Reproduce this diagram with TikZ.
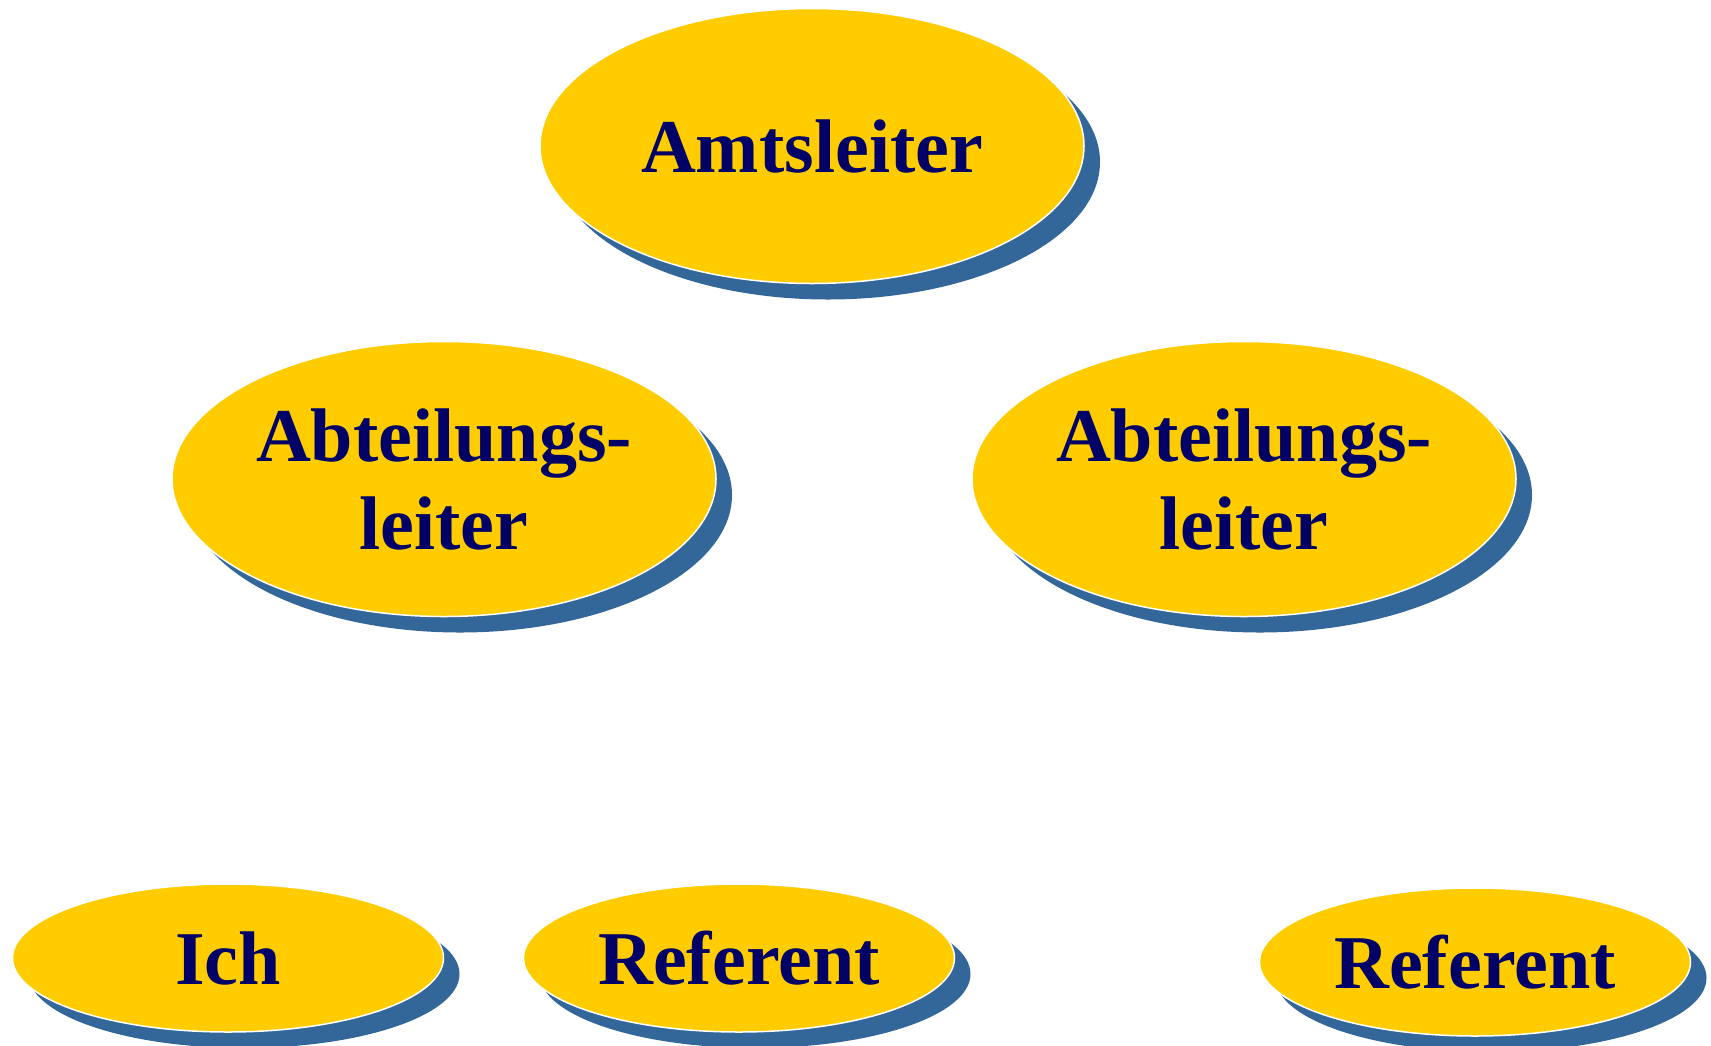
\documentclass[tikz,border=0pt]{standalone}
\usepackage{fontspec}
\setmainfont{Liberation Serif}
\usetikzlibrary{shapes.geometric,shadows}
\definecolor{gelb}{HTML}{FFCC00}
\definecolor{schatten}{HTML}{336699}
\definecolor{marine}{HTML}{000066}
\begin{document}
\begin{tikzpicture}[x=1pt,y=-1pt,
  stelle/.style={ellipse,fill=gelb,draw=white,line width=1.5pt,inner sep=0pt,
    text=marine,font=\fontsize{76}{88}\selectfont\bfseries,align=center,
    drop shadow={shadow xshift=16pt,shadow yshift=-16pt,fill=schatten,opacity=1}},
  gross/.style={stelle,minimum width=544pt,minimum height=275pt},
  klein/.style={stelle,minimum width=431pt,minimum height=148pt}]
\useasboundingbox (0,0) rectangle (1711,1045);
\node[gross] (amt) at (812,146) {Amtsleiter};
\node[gross] (abtl) at (444,479) {Abteilungs-\\leiter};
\node[gross] (abtr) at (1244,479) {Abteilungs-\\leiter};
\node[klein] (ich) at (228,958) {Ich};
\node[klein] (refm) at (739,958) {Referent};
\node[klein] (refr) at (1475,962) {Referent};
\end{tikzpicture}
\end{document}
